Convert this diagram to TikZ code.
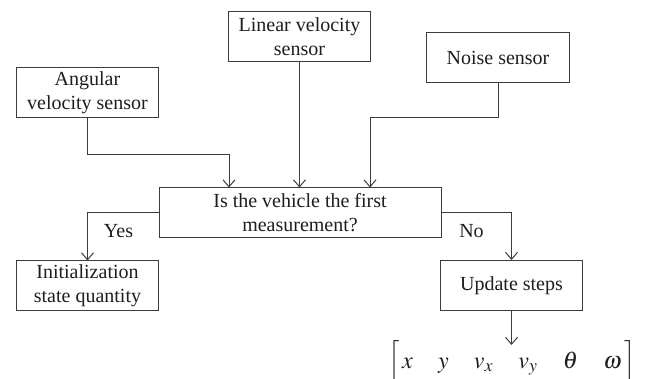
\documentclass[tikz,border=0pt]{standalone}
\usepackage{mathptmx}
\usepackage{fontspec}
\setmainfont{Liberation Serif}
\usetikzlibrary{arrows.meta,positioning,calc}
\definecolor{ink}{RGB}{30,30,30}
\definecolor{edge}{RGB}{60,60,60}
\newcommand{\vgap}{\hspace{1.05em}}

\begin{document}
\begin{tikzpicture}[
  x=0.75pt, y=0.75pt,
  font=\fontsize{15pt}{18pt}\selectfont,
  line width=0.75pt,
  >={Straight Barb[length=5.2pt,width=9pt]},
  every node/.style={inner sep=2pt, text=ink},
  box/.style={draw=edge, fill=white, minimum width=107pt, minimum height=37.5pt, align=center},
  wbox/.style={box, minimum width=211.5pt},
  flow/.style={draw=edge, ->},
  lab/.style={text=ink},
]
\useasboundingbox (0,0) rectangle (645,378);

% ---------------- sensors ----------------
\node[box] (ang)   at (87.5,285)   {Angular\\velocity sensor};
\node[box] (lin)   at (299.5,341.5) {Linear velocity\\sensor};
\node[box] (noise) at (498,320.5)  {Noise sensor};

% ---------------- decision ----------------
\node[wbox] (first) at (300,165) {Is the vehicle the first\\measurement?};

\draw[flow] (ang.south) -- ++(0,-36) -| ($(first.north)+(-71,0)$);
\draw[flow] (lin.south) -- (lin.south |- first.north);
\draw[flow] (noise.south) -- ++(0,-35) -| ($(first.north)+(70,0)$);

% ---------------- branches ----------------
\node[box] (init) at (87.5,92)  {Initialization\\state quantity};
\node[box] (upd)  at (511.5,92.5) {Update steps};

\draw[flow] (first.west) -| (init.north);
\node[lab] (yes) at ($(init.north |- first.west)+(31,-18)$) {Yes};
\draw[flow] (first.east) -| (upd.north);
\node[lab] (no) at ($(upd.north |- first.west)+(-40,-18)$) {No};

% state vector
\node[inner sep=0pt, font=\fontsize{18pt}{20pt}\selectfont] (state) at (512,16)
  {$\Big[\,x\vgap y\vgap v_x\vgap v_y\vgap \theta\vgap \omega\,\Big]$};
\draw[flow] (upd.south) -- ++(0,-34);

\end{tikzpicture}
\end{document}
